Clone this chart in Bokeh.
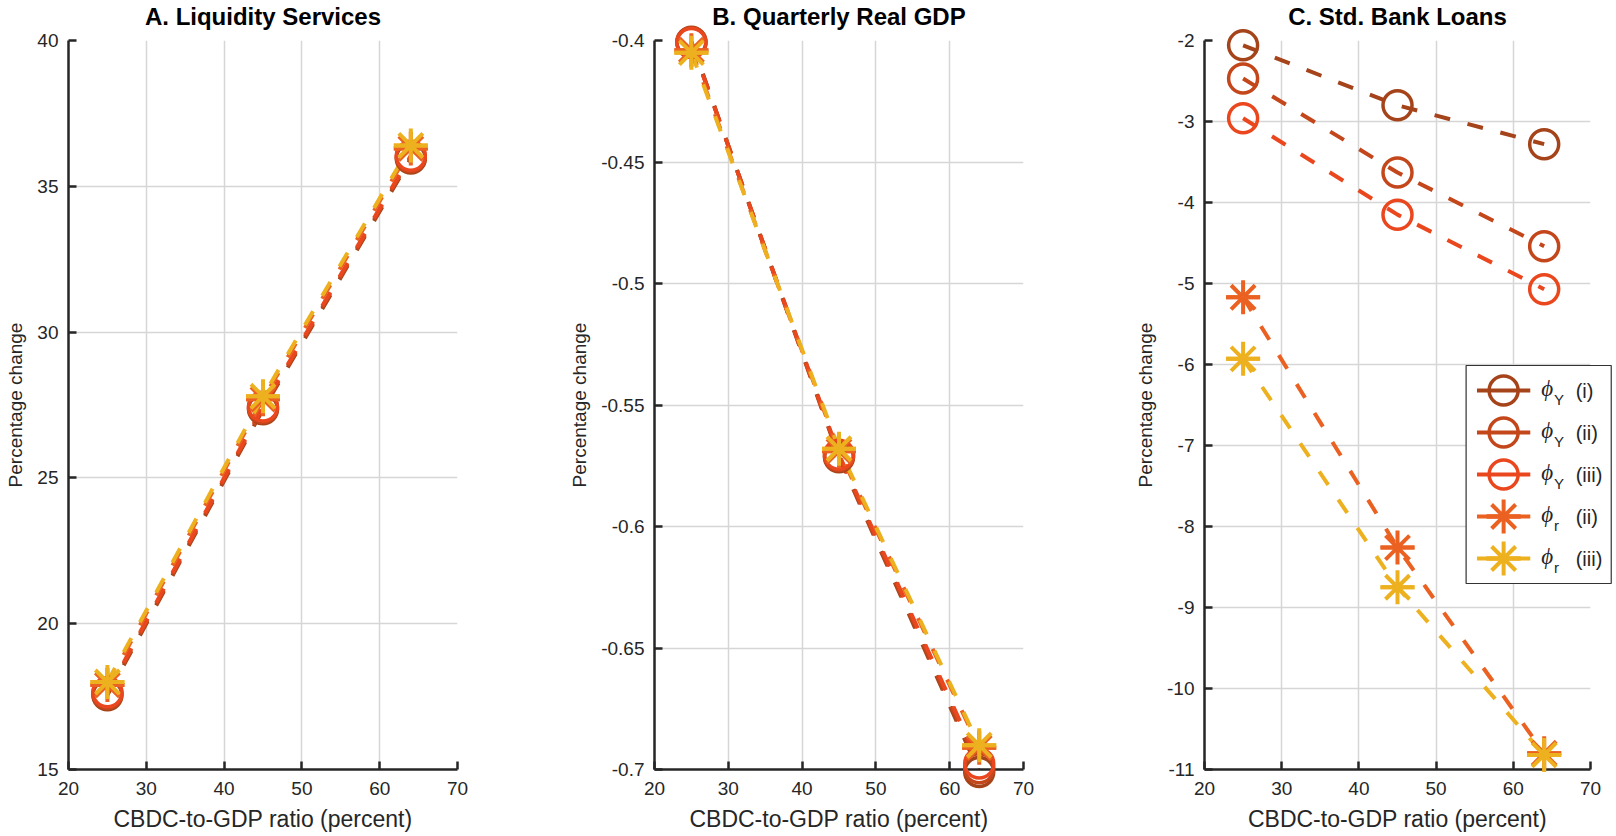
from bokeh.plotting import figure
from bokeh.layouts import row
from bokeh.models import FixedTicker, NumeralTickFormatter, Range1d
from bokeh.embed import file_html
from bokeh.resources import INLINE
from bokeh.core.properties import value

# ---------------- data ----------------
cbdc_ratio = [25, 45, 64]

series_keys = ["phiY_i", "phiY_ii", "phiY_iii", "phir_ii", "phir_iii"]
legend_sym = ["Y", "Y", "Y", "r", "r"]
legend_tag = ["(i)", "(ii)", "(iii)", "(ii)", "(iii)"]
series_colors = ["#A5441A", "#C4461B", "#EA471E", "#EA6121", "#EDB120"]
series_markers = ["circle", "circle", "circle", "asterisk", "asterisk"]

liq_phiY_i = [17.55, 27.35, 35.95]
liq_phiY_ii = [17.6, 27.4, 36.0]
liq_phiY_iii = [17.65, 27.45, 36.05]
liq_phir_ii = [17.9, 27.7, 36.3]
liq_phir_iii = [18.0, 27.8, 36.4]

gdp_phiY_i = [-0.4005, -0.5715, -0.7010]
gdp_phiY_ii = [-0.4007, -0.5710, -0.6995]
gdp_phiY_iii = [-0.4010, -0.5705, -0.6975]
gdp_phir_ii = [-0.4040, -0.5690, -0.6910]
gdp_phir_iii = [-0.4050, -0.5680, -0.6900]

loan_phiY_i = [-2.06, -2.80, -3.28]
loan_phiY_ii = [-2.47, -3.63, -4.54]
loan_phiY_iii = [-2.96, -4.15, -5.07]
loan_phir_ii = [-5.17, -8.26, -10.80]
loan_phir_iii = [-5.93, -8.75, -10.82]

x_ticks = [20, 30, 40, 50, 60, 70]
liq_ticks = [15, 20, 25, 30, 35, 40]
gdp_ticks = [-0.7, -0.65, -0.6, -0.55, -0.5, -0.45, -0.4]
loan_ticks = [-11, -10, -9, -8, -7, -6, -5, -4, -3, -2]

titles = ["A. Liquidity Services", "B. Quarterly Real GDP", "C. Std. Bank Loans"]
x_label = "CBDC-to-GDP ratio (percent)"
y_label = "Percentage change"

panels = [
    (titles[0], [liq_phiY_i, liq_phiY_ii, liq_phiY_iii, liq_phir_ii, liq_phir_iii], (15, 40), liq_ticks, "0"),
    (titles[1], [gdp_phiY_i, gdp_phiY_ii, gdp_phiY_iii, gdp_phir_ii, gdp_phir_iii], (-0.7, -0.4), gdp_ticks, "0.[00]"),
    (titles[2], [loan_phiY_i, loan_phiY_ii, loan_phiY_iii, loan_phir_ii, loan_phir_iii], (-11, -2), loan_ticks, "0"),
]

FONT = "Liberation Sans"
AX = "#262626"

fig_widths = [566, 566, 484]
borders_lr = [(68, 109), (67, 109), (67, 26)]
H = 836
TOP, BOTTOM = 40, 67
FRAME_H = H - TOP - BOTTOM

CIRCLE_SIZE = 29
STAR_SIZE = 34
LW = 4
DASH = "16 18"


def draw_marker(p, x, y, marker, color):
    if marker == "circle":
        p.scatter(x, y, marker="circle", size=CIRCLE_SIZE, fill_color=None,
                  line_color=color, line_width=3.5, level="overlay")
    else:
        p.scatter(x, y, marker="asterisk", size=STAR_SIZE, line_color=color,
                  line_width=4, level="overlay")
        p.scatter(x, y, marker="dash", size=STAR_SIZE, line_color=color,
                  line_width=4, level="overlay")


figs = []
for k, (title, series, yr, yticks, yfmt) in enumerate(panels):
    W = fig_widths[k]
    bl, br = borders_lr[k]
    p = figure(width=W, height=H, output_backend="svg", toolbar_location=None,
               x_range=Range1d(20, 70), y_range=Range1d(*yr),
               min_border_left=bl, min_border_right=br,
               min_border_top=TOP, min_border_bottom=BOTTOM)
    p.outline_line_color = None
    p.background_fill_color = "white"
    p.border_fill_color = "white"

    for ax in (p.xaxis[0], p.yaxis[0]):
        ax.axis_line_color = AX
        ax.axis_line_width = 2.5
        ax.major_tick_line_color = AX
        ax.major_tick_line_width = 2.5
        ax.major_tick_in = 8
        ax.major_tick_out = 0
        ax.minor_tick_line_color = None
        ax.major_label_text_font = FONT
        ax.major_label_text_font_size = "19px"
        ax.major_label_text_color = AX
        ax.axis_label_text_font = FONT
        ax.axis_label_text_font_style = "normal"
        ax.axis_label_text_color = AX

    p.xaxis.ticker = FixedTicker(ticks=x_ticks)
    p.yaxis.ticker = FixedTicker(ticks=yticks)
    p.yaxis.formatter = NumeralTickFormatter(format=yfmt)
    p.xaxis.axis_label = x_label
    p.yaxis.axis_label = y_label
    p.xaxis.axis_label_text_font_size = "23px"
    p.yaxis.axis_label_text_font_size = "19px"
    p.xaxis.major_label_standoff = 12
    p.yaxis.major_label_standoff = 10
    p.xaxis.axis_label_standoff = 8
    p.yaxis.axis_label_standoff = 8

    p.xgrid.ticker = FixedTicker(ticks=x_ticks)
    p.ygrid.ticker = FixedTicker(ticks=yticks)
    for g in (p.xgrid[0], p.ygrid[0]):
        g.grid_line_color = "#d6d6d6"
        g.grid_line_width = 1.5

    for i, ys in enumerate(series):
        c = series_colors[i]
        p.line(cbdc_ratio, ys, line_color=c, line_width=LW, line_dash=DASH)
    for i, ys in enumerate(series):
        draw_marker(p, cbdc_ratio, ys, series_markers[i], series_colors[i])

    # title drawn as text above the frame
    y0, y1 = yr
    y_title = y1 + 24 * (y1 - y0) / FRAME_H
    p.text([45], [y_title], text=[title], text_font=value(FONT), text_font_style="bold",
           text_font_size="24px", text_align="center", text_baseline="middle",
           text_color="#000000", level="overlay")

    figs.append(p)

# ---------------- legend for panel C (drawn by hand, in pixel layout) ----------------
pc = figs[2]
FL, FR, FT, FB = 1199, 1590, 40, 769


def dx(px):
    return 20 + (px - FL) * (50.0 / (FR - FL))


def dy(py):
    return -2 - (py - FT) * (9.0 / (FB - FT))


box_l, box_r, box_t, box_b = 1464, 1611, 365, 583
pc.quad(left=[dx(box_l)], right=[dx(box_r)], top=[dy(box_t)], bottom=[dy(box_b)],
        fill_color="white", line_color="#333333", line_width=1.2, level="overlay")

for i in range(5):
    yc = 390 + i * 42
    c = series_colors[i]
    pc.line([dx(1475), dx(1529)], [dy(yc), dy(yc)], line_color=c, line_width=LW,
            level="overlay")
    draw_marker(pc, [dx(1502)], [dy(yc)], series_markers[i], c)
    pc.text([dx(1540)], [dy(yc - 2)], text=["ϕ"], text_font=value("Liberation Serif"),
            text_font_style="italic", text_font_size="23px", text_baseline="middle",
            text_align="left", text_color="#262626", level="overlay")
    pc.text([dx(1553)], [dy(yc + 9)], text=[legend_sym[i]], text_font=value(FONT),
            text_font_size="15px", text_baseline="middle", text_align="left",
            text_color="#262626", level="overlay")
    pc.text([dx(1575)], [dy(yc)], text=[legend_tag[i]], text_font=value(FONT),
            text_font_size="20px", text_baseline="middle", text_align="left",
            text_color="#262626", level="overlay")

layout = row(*figs)
open("out.html", "w").write(file_html(layout, INLINE))
